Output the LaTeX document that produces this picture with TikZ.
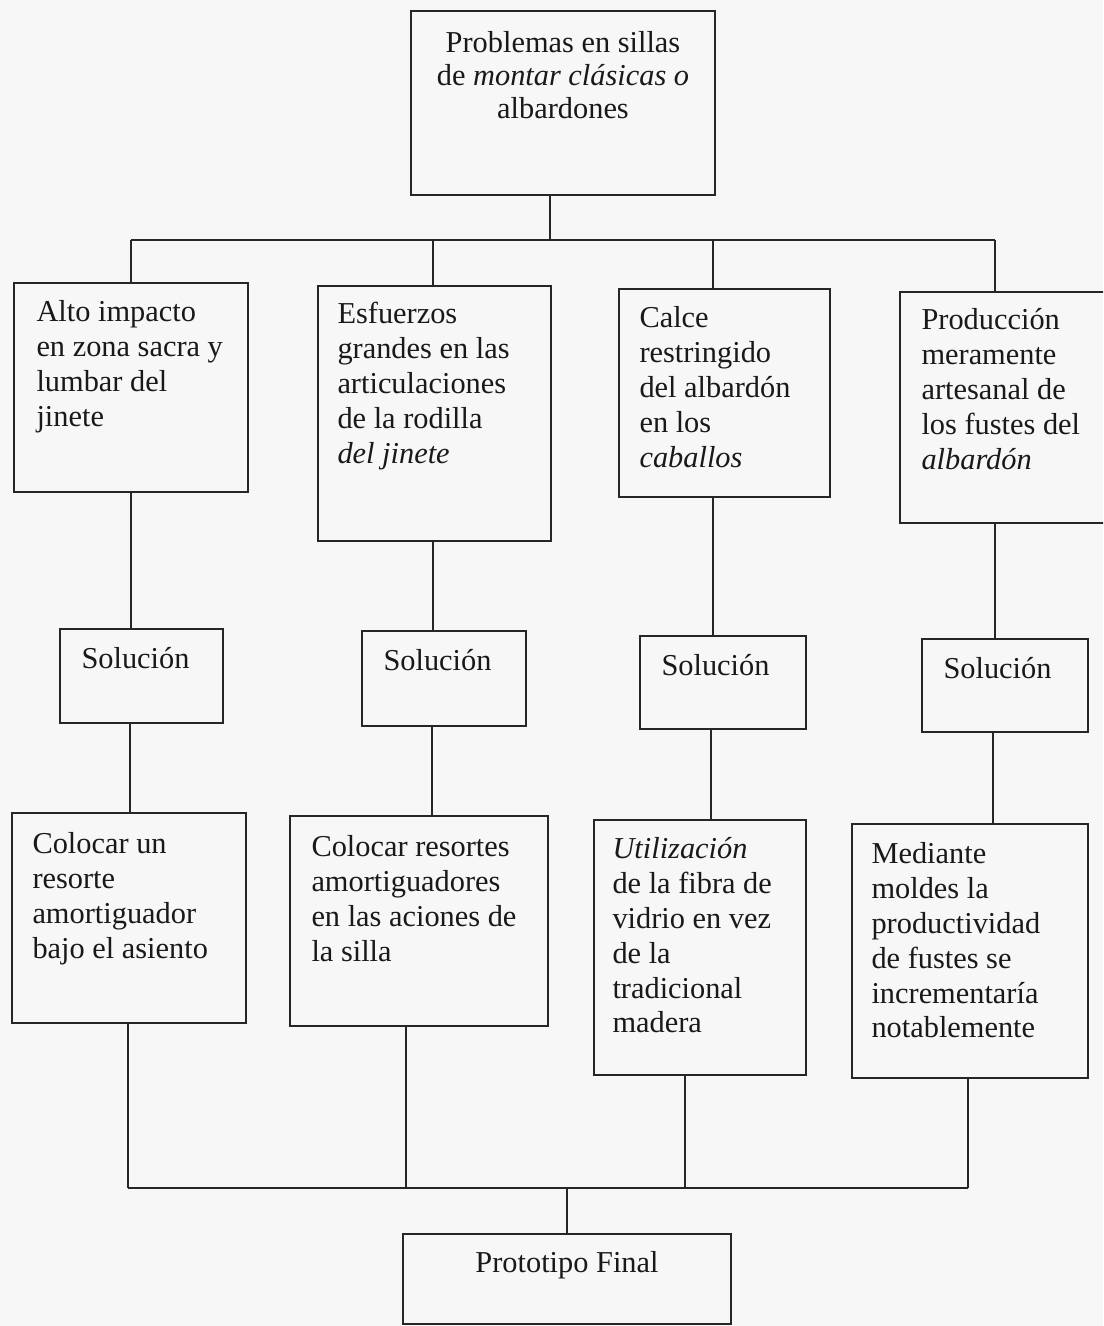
\documentclass[tikz,border=0pt]{standalone}
\usepackage{fontspec}
\setmainfont{Liberation Serif}
\usetikzlibrary{positioning, fit, calc}

\begin{document}
\begin{tikzpicture}[x=0.025cm, y=-0.025cm,
  box/.style={draw=black!85, line width=1.1pt, inner sep=0pt},
  txt/.style={font=\fontsize{21.6}{24.8}\selectfont, align=left, inner sep=0pt, text=black!90},
  ctxt/.style={font=\fontsize{21.6}{23.5}\selectfont, align=center, inner sep=0pt, text=black!90},
  link/.style={draw=black!85, line width=1.1pt}
]
  \useasboundingbox (0,0) rectangle (1103,1326);
  \clip (0,0) rectangle (1103,1326);
  \fill[white!97!black] (0,0) rectangle (1103,1326);

  % Problem at the top
  \node[box, fit={(411,11) (715,195)}] (prob) {};
  \node[ctxt, anchor=north] (probT) at ([shift={(0,21)}]prob.north)
    {Problemas en sillas\\de \textit{montar clásicas o}\\albardones};

  % Problems
  \node[box, fit={(14,283) (248,492)}] (imp) {};
  \node[txt, anchor=north west] (impT) at ([shift={(23,18)}]imp.north west)
    {Alto impacto\\en zona sacra y\\lumbar del\\jinete};
  \node[box, fit={(318,286) (551,541)}] (esf) {};
  \node[txt, anchor=north west] (esfT) at ([shift={(20,17)}]esf.north west)
    {Esfuerzos\\grandes en las\\articulaciones\\de la rodilla\\\textit{del jinete}};
  \node[box, fit={(619,289) (830,497)}] (cal) {};
  \node[txt, anchor=north west] (calT) at ([shift={(21,18)}]cal.north west)
    {Calce\\restringido\\del albardón\\en los\\\textit{caballos}};
  \node[box, fit={(900,292) (1112,523)}] (pro) {};
  \node[txt, anchor=north west] (proT) at ([shift={(22,17)}]pro.north west)
    {Producción\\meramente\\artesanal de\\los fustes del\\\textit{albardón}};

  % Solutions
  \node[box, fit={(60,629) (223,723)}] (sol1) {};
  \node[box, fit={(362,631) (526,726)}] (sol2) {};
  \node[box, fit={(640,636) (806,729)}] (sol3) {};
  \node[box, fit={(922,639) (1088,732)}] (sol4) {};
  \foreach \s in {sol1, sol2, sol3, sol4}{
    \node[txt, anchor=north west] (\s T) at ([shift={(22,19)}]\s.north west) {Solución};
  }

  % Proposals
  \node[box, fit={(12,813) (246,1023)}] (col1) {};
  \node[txt, anchor=north west] (col1T) at ([shift={(21,20)}]col1.north west)
    {Colocar un\\resorte\\amortiguador\\bajo el asiento};
  \node[box, fit={(290,816) (548,1026)}] (col2) {};
  \node[txt, anchor=north west] (col2T) at ([shift={(22,20)}]col2.north west)
    {Colocar resortes\\amortiguadores\\en las aciones de\\la silla};
  \node[box, fit={(594,820) (806,1075)}] (col3) {};
  \node[txt, anchor=north west] (col3T) at ([shift={(19,18)}]col3.north west)
    {\textit{Utilización}\\de la fibra de\\vidrio en vez\\de la\\tradicional\\madera};
  \node[box, fit={(852,824) (1088,1078)}] (col4) {};
  \node[txt, anchor=north west] (col4T) at ([shift={(20,19)}]col4.north west)
    {Mediante\\moldes la\\productividad\\de fustes se\\incrementaría\\notablemente};

  % Result
  \node[box, fit={(403,1234) (731,1324)}] (fin) {};
  \node[ctxt, anchor=north] (finT) at ([shift={(0,18)}]fin.north) {Prototipo Final};

  % Upper and lower bus
  \coordinate (topL) at (131,240);
  \coordinate (topR) at (995,240);
  \coordinate (topC) at (550,240);
  \draw[link] (topL) -- (topR);
  \draw[link] (topC) -- (topC |- prob.south);
  \coordinate (botL) at (128,1188);
  \coordinate (botR) at (968,1188);
  \draw[link] (botL) -- (botR);
  \draw[link] (fin.north |- botL) -- (fin.north);

  % Columns
  \foreach \hi/\so/\lo/\a/\b/\c in {imp/sol1/col1/131/130/128, esf/sol2/col2/433/432/406,
      cal/sol3/col3/713/711/685, pro/sol4/col4/995/993/968}{
    \coordinate (ka) at (\a,240);
    \coordinate (kb) at (\b,0);
    \coordinate (kc) at (\c,1188);
    \draw[link] (ka) -- (ka |- \hi.north);
    \draw[link] (ka |- \hi.south) -- (ka |- \so.north);
    \draw[link] (kb |- \so.south) -- (kb |- \lo.north);
    \draw[link] (kc |- \lo.south) -- (kc);
  }
\end{tikzpicture}
\end{document}
